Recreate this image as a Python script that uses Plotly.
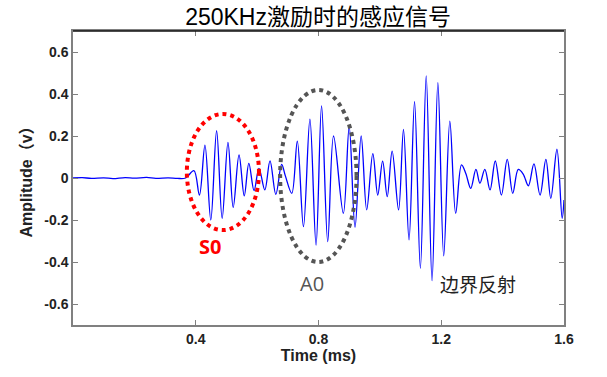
import plotly.graph_objects as go

# Waveform (extrema and baseline samples)
time_ms = [0.0, 0.03, 0.06, 0.10, 0.13, 0.17, 0.20, 0.24, 0.27, 0.31, 0.34, 0.367,
           0.394, 0.412, 0.430, 0.449, 0.468, 0.486, 0.505, 0.522, 0.541, 0.558,
           0.573, 0.590, 0.606, 0.625, 0.642, 0.661, 0.680, 0.692, 0.713, 0.731,
           0.751, 0.772, 0.792, 0.810, 0.830, 0.849, 0.881, 0.900, 0.919, 0.939,
           0.957, 0.977, 0.993, 1.009, 1.024, 1.040, 1.061, 1.077, 1.095, 1.113,
           1.132, 1.151, 1.170, 1.189, 1.208, 1.228, 1.247, 1.266, 1.280, 1.296,
           1.313, 1.326, 1.342, 1.359, 1.376, 1.396, 1.415, 1.433, 1.451, 1.467,
           1.484, 1.502, 1.522, 1.541, 1.557, 1.577, 1.594, 1.600]
amplitude_v = [0.0, 0.002, -0.002, 0.001, -0.003, 0.002, -0.001, 0.003, -0.002, 0.001, -0.002, 0.0,
               0.035, -0.081, 0.157, -0.200, 0.225, -0.192, 0.170, -0.140, 0.110, -0.085,
               0.070, -0.060, 0.046, -0.057, 0.082, -0.078, 0.065, 0.010, -0.073, 0.176,
               -0.232, 0.280, -0.319, 0.343, -0.303, 0.200, -0.168, 0.244, -0.235, 0.200,
               -0.152, 0.116, -0.081, 0.080, -0.089, 0.128, -0.152, 0.232, -0.295, 0.363,
               -0.430, 0.486, -0.489, 0.454, -0.371, 0.271, -0.168, 0.062, 0.022, -0.049,
               0.041, -0.025, 0.041, -0.057, 0.081, -0.081, 0.089, -0.073, 0.041, 0.019,
               -0.037, 0.067, -0.081, 0.089, -0.097, 0.137, -0.192, -0.105]

x_ticks = [0.4, 0.8, 1.2, 1.6]
x_tick_labels = ["0.4", "0.8", "1.2", "1.6"]
y_ticks = [-0.6, -0.4, -0.2, 0, 0.2, 0.4, 0.6]
y_tick_labels = ["-0.6", "-0.4", "-0.2", "0", "0.2", "0.4", "0.6"]

title_text = "250KHz激励时的感应信号"
labels = ["S0", "A0", "边界反射"]

fig = go.Figure()
fig.add_trace(go.Scatter(x=time_ms, y=amplitude_v, mode="lines",
                         line=dict(color="#0000FF", width=1.3, shape="spline", smoothing=1.0),
                         showlegend=False, hoverinfo="skip"))

# ellipses
fig.add_shape(type="circle", xref="x", yref="y", x0=0.371, x1=0.606, y0=-0.248, y1=0.305,
              line=dict(color="#FF0000", width=4, dash="dot"))
fig.add_shape(type="circle", xref="x", yref="y", x0=0.675, x1=0.924, y0=-0.40, y1=0.419,
              line=dict(color="#555555", width=4, dash="dot"))
# top border darker
fig.add_shape(type="line", xref="paper", yref="paper", x0=0, x1=1, y0=1, y1=1,
              line=dict(color="#111111", width=1.5))

fig.add_annotation(x=0.446, y=-0.324, text="<b>" + labels[0] + "</b>", showarrow=False,
                   font=dict(family="Open Sans, Noto Sans", size=20, color="#FF0000"))
fig.add_annotation(x=0.78, y=-0.50, text=labels[1], showarrow=False,
                   font=dict(family="Open Sans, Noto Sans", size=20, color="#555555"))
fig.add_annotation(x=1.32, y=-0.50, text=labels[2], showarrow=False,
                   font=dict(family="Noto Sans CJK SC", size=19, color="#222222"))

axis_common = dict(showline=True, linecolor="#808080", linewidth=1.5, mirror="ticks",
                   ticks="inside", ticklen=5, tickcolor="#808080", showgrid=False,
                   zeroline=False,
                   tickfont=dict(family="Liberation Sans, Arial", size=14, color="#222222",
                                 weight="bold"))

fig.update_xaxes(range=[0, 1.6], tickvals=x_ticks, ticktext=x_tick_labels,
                 title=dict(text="<b>Time (ms)</b>", standoff=2,
                            font=dict(family="Liberation Sans, Arial", size=16, color="#222222")),
                 **axis_common)
fig.update_yaxes(range=[-0.7, 0.7], tickvals=y_ticks, ticktext=y_tick_labels,
                 title=dict(text="<b>Amplitude（v）</b>", standoff=8,
                            font=dict(family="Liberation Sans, Noto Sans CJK SC", size=16, color="#222222")),
                 **axis_common)

fig.update_layout(
    width=607, height=377,
    margin=dict(l=73, r=43, t=31, b=52),
    paper_bgcolor="white", plot_bgcolor="white",
    title=dict(text=title_text, x=0.524, xanchor="center", y=0.955, yanchor="middle",
               font=dict(family="Liberation Sans, Noto Sans CJK SC", size=23, color="#000000")),
)

fig.write_html("out.html", config={"displayModeBar": False},
               post_script="document.body.style.margin='0';document.body.style.overflow='hidden';")
